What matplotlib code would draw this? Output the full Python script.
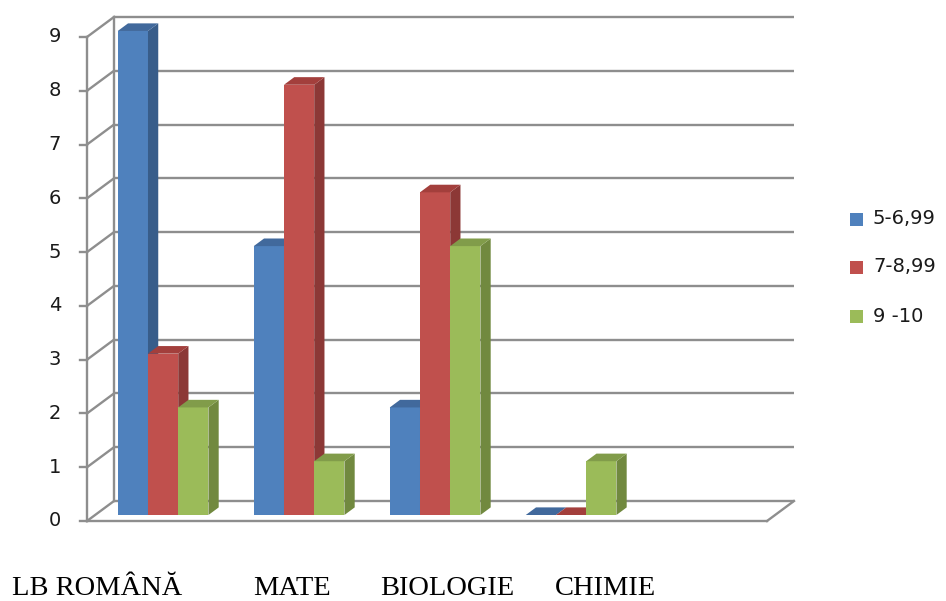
import matplotlib
matplotlib.use("Agg")
import matplotlib.pyplot as plt
from matplotlib.patches import Polygon, Rectangle
from matplotlib.transforms import Affine2D

# ---- data ----
categories = ["LB ROMÂNĂ", "MATE", "BIOLOGIE", "CHIMIE"]
series_names = ["5-6,99", "7-8,99", "9 -10"]
values_low = [9, 5, 2, 0]      # 5-6,99
values_mid = [3, 8, 6, 0]      # 7-8,99
values_high = [2, 1, 5, 1]     # 9 -10
y_ticks = [0, 1, 2, 3, 4, 5, 6, 7, 8, 9]

series_values = [values_low, values_mid, values_high]
front_cols = ["#4F81BD", "#C0504D", "#9BBB59"]
side_cols = ["#385D8A", "#8C3836", "#71893F"]
top_cols = ["#41699C", "#A33F3C", "#819C4A"]

W, H = 946, 601
fig = plt.figure(figsize=(W / 100, H / 100), dpi=100)
ax = fig.add_axes([0, 0, 1, 1])
ax.set_axis_off()

# pixel scale of the front plane
PX = 136.0          # pixels per category slot
PY = 53.78          # pixels per value unit
X0, Y0 = 87.0, 521.0
ax.set_xlim(-X0 / PX, (W - X0) / PX)
ax.set_ylim(-(H - Y0) / PY, Y0 / PY)

n_slots = 5
ymax = 9
# depth of the 3-D box (front -> back wall)
Dx, Dy = 27 / PX, 20 / PY
# bars sit between these depth fractions
f0, f1 = 0.30, 0.68

grid_c = "#8E8E8E"
lw = 1.7
label_font = "DejaVu Sans"

# back wall gridlines
for k in y_ticks:
    ax.plot([Dx, n_slots + Dx], [k + Dy, k + Dy], color=grid_c, lw=lw,
            solid_capstyle="butt", zorder=1)
    # left wall diagonals
    ax.plot([0, Dx], [k, k + Dy], color=grid_c, lw=lw, zorder=1)
    # tick marks
    ax.plot([-7 / PX, 0], [k, k], color=grid_c, lw=lw, zorder=1)
    ax.text(-26 / PX, k, str(k), ha="right", va="center", fontsize=14,
            family=label_font, color="#1a1a1a")

# back vertical edge, front axis, floor
ax.plot([Dx, Dx], [Dy, ymax + Dy], color=grid_c, lw=lw, zorder=1)
ax.plot([0, 0], [0, ymax], color=grid_c, lw=lw, zorder=1)
ax.plot([0, n_slots], [0, 0], color=grid_c, lw=lw, zorder=1)
ax.plot([n_slots, n_slots + Dx], [0, Dy], color=grid_c, lw=lw, zorder=1)

# clustered 3-D columns, gap width 150 %
bw = 1 / 4.5
margin = (1 - 3 * bw) / 2
ddx, ddy = (f1 - f0) * Dx, (f1 - f0) * Dy
order = 0
for i in range(len(categories)):
    for j, vals in enumerate(series_values):
        v = vals[i]
        order += 1
        z = 3 + order
        xl = i + margin + j * bw + f0 * Dx
        base = f0 * Dy
        ax.bar(xl, v, width=bw, bottom=base, align="edge",
               color=front_cols[j], edgecolor="none", zorder=z)
        xr = xl + bw
        top = base + v
        side = Polygon([(xr, base), (xr, top), (xr + ddx, top + ddy),
                        (xr + ddx, base + ddy)], closed=True,
                       facecolor=side_cols[j], edgecolor="none", zorder=z)
        lid = Polygon([(xl, top), (xr, top), (xr + ddx, top + ddy),
                       (xl + ddx, top + ddy)], closed=True,
                      facecolor=top_cols[j], edgecolor="none", zorder=z)
        ax.add_patch(side)
        ax.add_patch(lid)

# legend (figure pixel coordinates, origin top-left)
pix = Affine2D().scale(1, -1).translate(0, H)
leg_y = [219, 267, 316]
for j, name in enumerate(series_names):
    fig.patches.append(Rectangle((850, leg_y[j] + 6.5), 13, -13,
                                 transform=pix, facecolor=front_cols[j],
                                 edgecolor="none"))
    fig.text(873, leg_y[j], name, transform=pix, ha="left", va="center",
             fontsize=14, family=label_font, color="#1a1a1a")

# category captions under the chart
cap_x = [12, 253, 380, 555]
for name, x in zip(categories, cap_x):
    fig.text(x, 595, name, transform=pix, ha="left", va="baseline",
             fontsize=20.5, family="Liberation Serif", color="black")

fig.savefig("out.png", dpi=100)
